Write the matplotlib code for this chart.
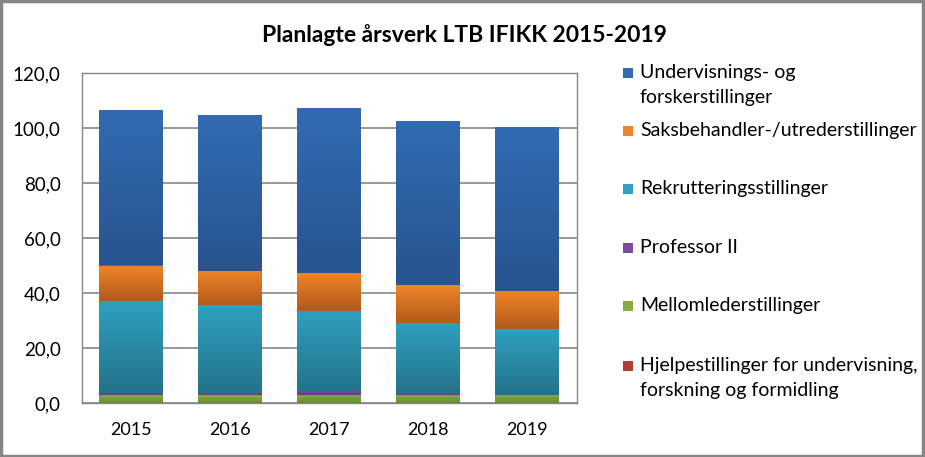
import numpy as np
import matplotlib
matplotlib.use("Agg")
import matplotlib.pyplot as plt
from matplotlib.colors import LinearSegmentedColormap
from matplotlib.patches import Rectangle

# Data
years = ["2015", "2016", "2017", "2018", "2019"]
hjelpestillinger = [0.0, 0.0, 0.0, 0.0, 0.0]
mellomledere = [2.8, 2.9, 3.0, 3.0, 3.0]
professor_ii = [0.8, 0.6, 1.2, 0.6, 0.0]
rekruttering = [33.6, 32.0, 29.3, 25.6, 24.0]
saksbehandler = [12.8, 12.6, 13.9, 13.8, 13.8]
undervisning = [56.5, 56.6, 59.8, 59.5, 59.5]

# bottom to top stacking order
series = [
    ("Hjelpestillinger for undervisning,\nforskning og formidling", hjelpestillinger, ("#B23A37", "#8E2A28")),
    ("Mellomlederstillinger", mellomledere, ("#84AC42", "#6A8B32")),
    ("Professor II", professor_ii, ("#7A4D9E", "#5E3A7D")),
    ("Rekrutteringsstillinger", rekruttering, ("#2FA0C0", "#237389")),
    ("Saksbehandler-/utrederstillinger", saksbehandler, ("#F08428", "#B35A1C")),
    ("Undervisnings- og\nforskerstillinger", undervisning, ("#326BB3", "#28548F")),
]

FONT = ["Lato", "DejaVu Sans"]
GRID = "#868686"

fig = plt.figure(figsize=(9.25, 4.57), dpi=100)
ax = fig.add_axes([81.5 / 925, 1 - 403 / 457, 495 / 925, 330 / 457])

x = np.arange(len(years))
width = 0.646
bottom = np.zeros(len(years))
for name, vals, (c_top, c_bot) in series:
    vals = np.array(vals)
    cmap = LinearSegmentedColormap.from_list(name, [c_bot, c_top])
    grad = np.linspace(0, 1, 64).reshape(-1, 1)
    bars = ax.bar(x, vals, width, bottom=bottom, color=c_top, linewidth=0, zorder=2)
    for b in bars:
        if b.get_height() <= 0:
            continue
        x0, y0 = b.get_x(), b.get_y()
        im = ax.imshow(grad, cmap=cmap, origin="lower", aspect="auto",
                       extent=(x0, x0 + b.get_width(), y0, y0 + b.get_height()),
                       zorder=3, interpolation="bilinear")
        im.set_clip_path(b)
    bottom += vals

ax.set_xlim(-0.5, len(years) - 0.5)
ax.set_ylim(0, 120)
ax.set_yticks(np.arange(0, 121, 20))
ax.set_yticklabels([f"{v:.1f}".replace(".", ",") for v in np.arange(0, 121, 20)],
                   fontsize=13.5, family=FONT)
ax.set_xticks(x)
ax.set_xticklabels(years, fontsize=13, family=FONT)
ax.tick_params(length=0, pad=14)
ax.tick_params(axis="y", pad=15)
ax.yaxis.grid(True, color=GRID, linewidth=1.2, zorder=0)
ax.set_axisbelow(True)
for s in ax.spines.values():
    s.set_color(GRID)
    s.set_linewidth(1.0)

fig.text(464 / 925, 1 - 35 / 457, "Planlagte årsverk LTB IFIKK 2015-2019",
         ha="center", va="center", fontsize=16.5, fontweight="bold", family=FONT)

# legend, top entry first
legend_y = [73, 131, 189, 248, 306, 366]
for (name, vals, (c_top, c_bot)), ly in zip(reversed(series), legend_y):
    fig.patches.append(Rectangle((623 / 925, 1 - (ly + 5) / 457), 10 / 925, 10 / 457,
                                 transform=fig.transFigure, facecolor=c_top,
                                 edgecolor="none"))
    fig.text(640 / 925, 1 - (ly - 9) / 457, name, ha="left", va="top",
             fontsize=14, family=FONT, linespacing=1.6)

fig.patches.append(Rectangle((0.0015, 0.003), 0.996, 0.994, transform=fig.transFigure,
                             facecolor="none", edgecolor=GRID, linewidth=2.5))

fig.savefig("out.png", dpi=100)
